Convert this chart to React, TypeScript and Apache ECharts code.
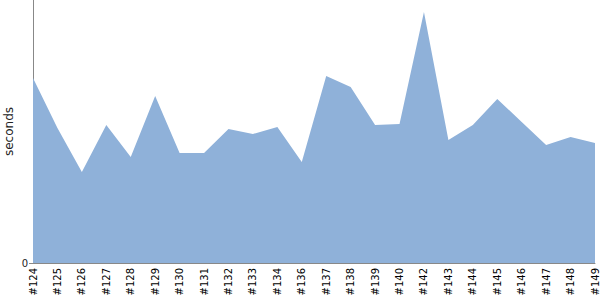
import React, { useEffect, useRef } from "react";
import * as echarts from "echarts";

const builds = ["#124", "#125", "#126", "#127", "#128", "#129", "#130", "#131", "#132", "#133", "#134", "#136", "#137", "#138", "#139", "#140", "#142", "#143", "#144", "#145", "#146", "#147", "#148", "#149"];
const durations = [185, 135, 91, 138, 106, 167, 110, 110, 134, 129, 136, 101, 187, 176, 138, 139, 251, 123, 138, 164, 141, 118, 126, 120];
const yMax = 263;
const yTicks = [0];

export default function App() {
  const ref = useRef<HTMLDivElement>(null);
  useEffect(() => {
    const chart = echarts.init(ref.current!, null, { renderer: "svg" });
    chart.setOption({
      animation: false,
      grid: { left: 33, right: 5, top: 0, bottom: 37, containLabel: false, outerBoundsMode: "none" },
      xAxis: {
        type: "category",
        data: builds,
        boundaryGap: false,
        axisLine: { lineStyle: { color: "#888", width: 1 } },
        axisTick: { show: false },
        axisLabel: {
          rotate: 90,
          interval: 0,
          margin: 5,
          fontSize: 10,
          color: "#000",
          fontFamily: "DejaVu Sans",
        },
        splitLine: { show: false },
      },
      yAxis: {
        type: "value",
        min: 0,
        max: yMax,
        interval: yMax,
        name: "seconds",
        nameLocation: "middle",
        nameGap: 18,
        nameMoveOverlap: false,
        nameTextStyle: { fontSize: 12, color: "#222", fontFamily: "DejaVu Sans" },
        axisLine: { show: true, lineStyle: { color: "#888", width: 1 } },
        axisTick: { show: true, length: 4, customValues: yTicks, lineStyle: { color: "#888" } },
        axisLabel: {
          fontSize: 10,
          color: "#222",
          margin: 5,
          fontFamily: "DejaVu Sans",
          customValues: yTicks,
          formatter: (v: number) => (v === 0 ? "0" : ""),
        },
        splitLine: { show: false },
      },
      series: [
        {
          type: "line",
          data: durations,
          showSymbol: false,
          lineStyle: { width: 0, color: "#8fb1d9" },
          itemStyle: { color: "#8fb1d9" },
          areaStyle: { color: "#8fb1d9", opacity: 1 },
        },
      ],
    });
    return () => chart.dispose();
  }, []);
  return <div ref={ref} style={{ width: 600, height: 300, position: "absolute", left: 0, top: 0 }} />;
}
